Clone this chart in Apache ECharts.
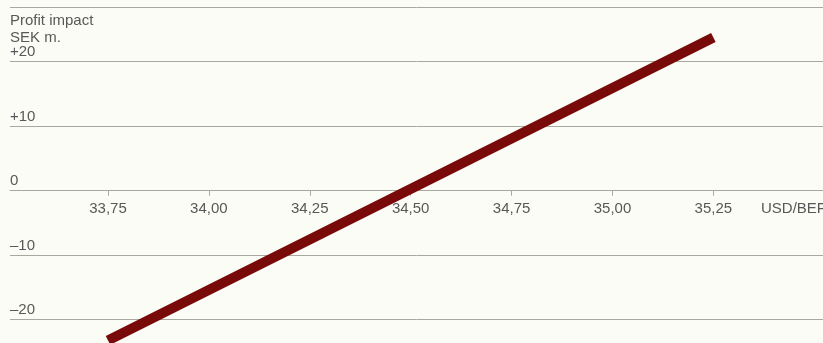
<!DOCTYPE html>
<html>
<head>
<meta charset="utf-8">
<script src="https://cdn.jsdelivr.net/npm/echarts@6/dist/echarts.min.js"></script>
<style>
  html, body { margin: 0; padding: 0; background: #fcfcf7; }
  #chart { width: 823px; height: 343px; }
</style>
</head>
<body>
<div id="chart"></div>
<script>
// Exchange rate (USD/BEF) against profit impact in SEK m.
const exchangeRates = [33.75, 35.25];
const profitImpact = [-23.2, 23.75];

const xTickValues = [33.75, 34.00, 34.25, 34.50, 34.75, 35.00, 35.25];
const xTickLabels = ['33,75', '34,00', '34,25', '34,50', '34,75', '35,00', '35,25'];

const yTickValues = [-20, -10, 0, 10, 20];
const yTickLabels = ['–20', '–10', '0', '+10', '+20'];

const yAxisTitle = 'Profit impact\nSEK m.';
const xAxisTitle = 'USD/BEF';

// Visible extent of both axes
const xMin = 33.5072, xMax = 35.5216;
const yMin = -23.61, yMax = 28.43;

const textColor = '#585858';
const gridColor = '#aaa7a0';
const fontFamily = '"Liberation Sans", Arial, Helvetica, sans-serif';

function labelFor(values, labels, v) {
  for (let i = 0; i < values.length; i++) {
    if (Math.abs(values[i] - v) < 1e-6) return labels[i];
  }
  return '';
}

const chart = echarts.init(document.getElementById('chart'), null, { renderer: 'canvas' });

chart.setOption({
  backgroundColor: '#fcfcf7',
  animation: false,
  title: {
    text: yAxisTitle,
    left: 10,
    top: 13,
    padding: 0,
    textStyle: {
      fontFamily: fontFamily,
      fontSize: 15,
      fontWeight: 'normal',
      lineHeight: 16.6,
      color: textColor
    }
  },
  graphic: [{
    type: 'text',
    x: 761,
    y: 209,
    style: {
      text: xAxisTitle,
      fontFamily: fontFamily,
      fontSize: 15,
      fill: textColor,
      verticalAlign: 'middle'
    }
  }],
  grid: {
    left: 10,
    right: 0,
    top: 7.3,
    bottom: 0,
    containLabel: false,
    outerBoundsMode: 'none'
  },
  xAxis: {
    type: 'value',
    min: xMin,
    max: xMax,
    // the rate axis sits on the zero line of the profit scale
    offset: -152.3,
    axisLine: { show: true, onZero: false, lineStyle: { color: gridColor, width: 1 } },
    axisTick: {
      show: true,
      length: 5,
      customValues: xTickValues,
      lineStyle: { color: gridColor, width: 1 }
    },
    axisLabel: {
      show: true,
      customValues: xTickValues,
      margin: 11,
      fontFamily: fontFamily,
      fontSize: 15,
      color: textColor,
      formatter: function (v) { return labelFor(xTickValues, xTickLabels, v); }
    },
    splitLine: { show: false }
  },
  yAxis: {
    type: 'value',
    min: yMin,
    max: yMax,
    axisLine: { show: false },
    axisTick: { show: false, customValues: yTickValues.concat([yMax]) },
    axisLabel: {
      show: true,
      customValues: yTickValues,
      inside: true,
      margin: 0,
      align: 'left',
      verticalAlign: 'bottom',
      padding: [0, 0, 2, 0],
      fontFamily: fontFamily,
      fontSize: 15,
      color: textColor,
      formatter: function (v) { return labelFor(yTickValues, yTickLabels, v); }
    },
    splitLine: { show: true, lineStyle: { color: gridColor, width: 1 } }
  },
  series: [{
    type: 'line',
    data: exchangeRates.map(function (x, i) { return [x, profitImpact[i]]; }),
    showSymbol: false,
    symbol: 'none',
    clip: false,
    lineStyle: { color: '#780a0a', width: 10, cap: 'butt' }
  }]
});
</script>
</body>
</html>
